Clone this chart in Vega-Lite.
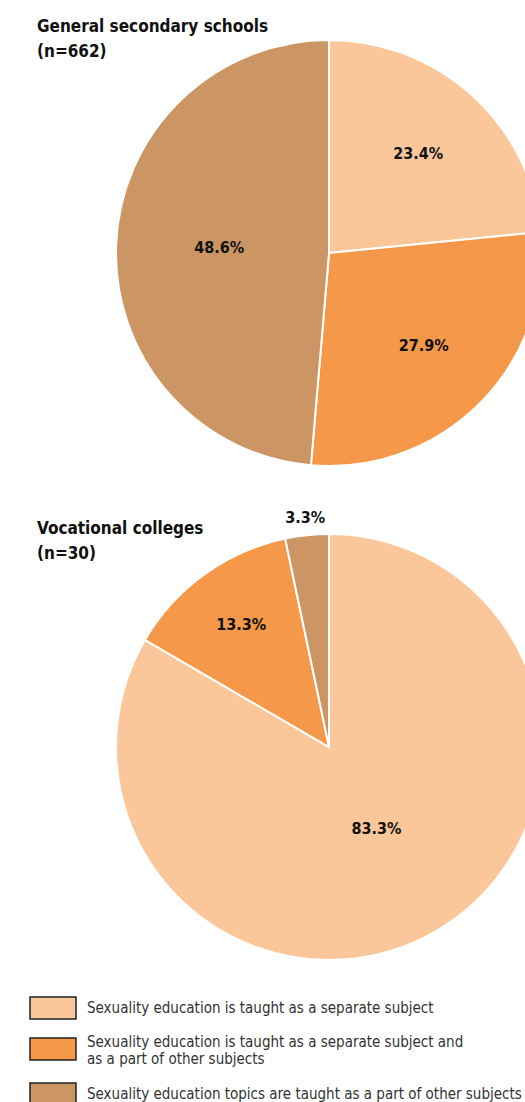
{
  "$schema": "https://vega.github.io/schema/vega-lite/v6.json",
  "autosize": {"type": "pad"},
  "padding": {"left": 30, "top": 18, "right": 0, "bottom": 0},
  "background": "white",
  "config": {
    "view": {"stroke": null},
    "font": "DejaVu Sans Condensed",
    "title": {"font": "DejaVu Sans Condensed", "fontSize": 17, "fontWeight": "bold", "color": "#111", "anchor": "start", "lineHeight": 25, "frame": "group", "dx": 7}
  },
  "data": {"values": [
    {"school": "General", "k": 1, "category": "Sexuality education is taught as a separate subject", "pct": 23.4},
    {"school": "General", "k": 2, "category": "Sexuality education is taught as a separate subject and as a part of other subjects", "pct": 27.9},
    {"school": "General", "k": 3, "category": "Sexuality education topics are taught as a part of other subjects", "pct": 48.6},
    {"school": "Vocational", "k": 1, "category": "Sexuality education is taught as a separate subject", "pct": 83.3},
    {"school": "Vocational", "k": 2, "category": "Sexuality education is taught as a separate subject and as a part of other subjects", "pct": 13.3},
    {"school": "Vocational", "k": 3, "category": "Sexuality education topics are taught as a part of other subjects", "pct": 3.3}
  ]},
  "transform": [
    {"calculate": "format(datum.pct, '.1f') + '%'", "as": "label"}
  ],
  "spacing": 40,
  "vconcat": [
    {
      "title": {"text": ["General secondary schools", "(n=662)"], "offset": -25},
      "width": 598,
      "height": 426,
      "transform": [{"filter": "datum.school == 'General'"}],
      "encoding": {
        "theta": {"field": "pct", "type": "quantitative", "stack": true},
        "order": {"field": "k", "type": "quantitative"},
        "color": {"field": "category", "type": "nominal"}
      },
      "layer": [
        {"mark": {"type": "arc", "outerRadius": 213, "stroke": "white", "strokeWidth": 2}},
        {"mark": {"type": "text", "radius": 133, "font": "DejaVu Sans Condensed", "fontWeight": "bold", "fontSize": 16},
         "encoding": {"text": {"condition": {"test": "datum.k != 3", "field": "label"}, "value": ""}, "color": {"value": "#111"}}},
        {"mark": {"type": "text", "radius": 110, "font": "DejaVu Sans Condensed", "fontWeight": "bold", "fontSize": 16},
         "encoding": {"text": {"condition": {"test": "datum.k == 3", "field": "label"}, "value": ""}, "color": {"value": "#111"}}}
      ]
    },
    {
      "title": {"text": ["Vocational colleges", "(n=30)"], "offset": -53},
      "width": 598,
      "height": 426,
      "transform": [{"filter": "datum.school == 'Vocational'"}],
      "encoding": {
        "theta": {"field": "pct", "type": "quantitative", "stack": true},
        "order": {"field": "k", "type": "quantitative"},
        "color": {
          "field": "category", "type": "nominal",
          "scale": {
            "domain": ["Sexuality education is taught as a separate subject", "Sexuality education is taught as a separate subject and as a part of other subjects", "Sexuality education topics are taught as a part of other subjects"],
            "range": ["#FBC79A", "#F5984A", "#CC9564"]
          },
          "legend": {
            "orient": "none", "legendX": 12, "legendY": 957, "direction": "vertical", "title": null,
            "symbolType": "M-2.3,-1.1H2.3V1.1H-2.3Z", "symbolSize": 400,
            "symbolStrokeColor": "#222", "symbolStrokeWidth": 1.5,
            "labelFont": "DejaVu Sans Condensed", "labelFontSize": 15, "labelColor": "#333", "labelLimit": 500, "labelOffset": 23,
            "rowPadding": 13, "padding": 0,
            "labelExpr": "datum.label == 'Sexuality education is taught as a separate subject and as a part of other subjects' ? ['Sexuality education is taught as a separate subject and', 'as a part of other subjects'] : datum.label",
            "encode": {
              "symbols": {"update": {"stroke": {"value": "#222"}, "strokeWidth": {"value": 1.5}}},
              "labels": {"update": {"dy": {"signal": "datum.index == 1 ? -7 : 0"}}}
            }
          }
        }
      },
      "layer": [
        {"mark": {"type": "arc", "outerRadius": 213, "stroke": "white", "strokeWidth": 2}},
        {"mark": {"type": "text", "radius": 95, "font": "DejaVu Sans Condensed", "fontWeight": "bold", "fontSize": 16},
         "encoding": {"text": {"condition": {"test": "datum.k == 1", "field": "label"}, "value": ""}, "color": {"value": "#111"}}},
        {"mark": {"type": "text", "radius": 150, "font": "DejaVu Sans Condensed", "fontWeight": "bold", "fontSize": 16},
         "encoding": {"text": {"condition": {"test": "datum.k == 2", "field": "label"}, "value": ""}, "color": {"value": "#111"}}},
        {"mark": {"type": "text", "radius": 230, "font": "DejaVu Sans Condensed", "fontWeight": "bold", "fontSize": 16},
         "encoding": {"text": {"condition": {"test": "datum.k == 3", "field": "label"}, "value": ""}, "color": {"value": "#111"}}}
      ]
    }
  ]
}
